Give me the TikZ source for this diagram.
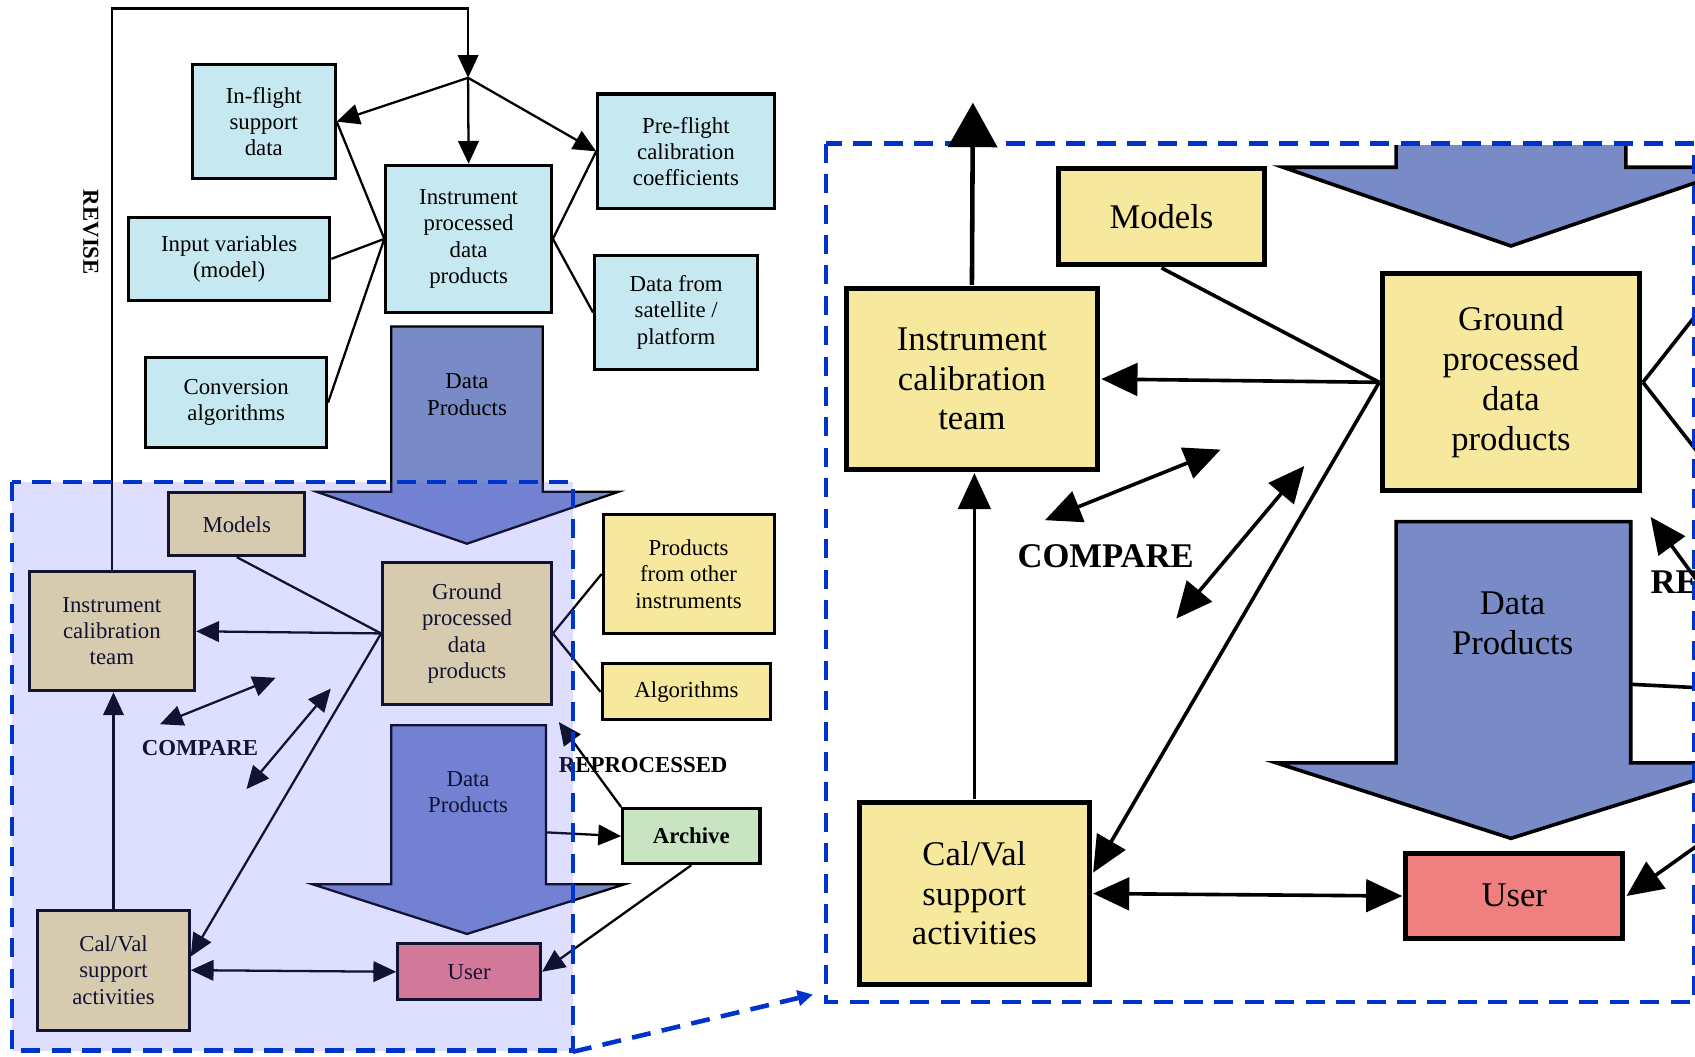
\documentclass[tikz,border=0pt]{standalone}
\usepackage{fontspec}
\setmainfont{Liberation Serif}
\usetikzlibrary{arrows.meta}

\definecolor{skyfill}{HTML}{C6E8F0}
\definecolor{sandfill}{HTML}{F6E89C}
\definecolor{rosefill}{HTML}{F08080}
\definecolor{mintfill}{HTML}{C8E4C0}
\definecolor{dpfill}{HTML}{788BC6}
\definecolor{zoomblue}{HTML}{0033CC}
\definecolor{tintblue}{HTML}{5A5AFF}

\newlength\boxlw
\newlength\connlw

\tikzset{
  box/.style={draw, line width=\boxlw, align=center, inner sep=1pt,
    font=\fontsize{6}{6.9}\selectfont},
  boxsize/.style 2 args={minimum width=#1cm, minimum height=#2cm},
  bluebox/.style={box, fill=skyfill},
  yelbox/.style={box, fill=sandfill},
  conn/.style={line width=\connlw},
  dparrow/.style={draw, fill=dpfill, line width=\connlw},
  dptext/.style={align=center, font=\fontsize{6}{6.9}\selectfont},
  tag/.style={font=\bfseries\fontsize{6}{6.9}\selectfont},
  tint/.style={fill=tintblue, fill opacity=0.2},
  zoomline/.style={draw=zoomblue, line width=1.2pt, dash pattern=on 5pt off 3pt},
}

% the cal/val part, drawn once as it is and once magnified
\newcommand{\calvalpart}[1]{%
  \draw[dparrow] (362,302) -- (502,302) -- (502,455) -- (572,455) -- (432,503)
    -- (293,455) -- (362,455) -- cycle;
  \node[dptext] (#1dpa) at (432,365) {Data\\Products};
  \draw[dparrow] (362,671) -- (505,671) -- (505,818) -- (578,818) -- (432,864)
    -- (289,818) -- (362,818) -- cycle;
  \node[dptext] (#1dpb) at (433,733) {Data\\Products};
  \node[yelbox, boxsize={1.26}{0.58}] (#1models) at (219,485) {Models};
  \node[yelbox, boxsize={1.53}{1.10}] (#1ict) at (103.5,584) {Instrument\\calibration\\team};
  \node[yelbox, boxsize={1.56}{1.32}] (#1ground) at (432,586) {Ground\\processed\\data\\products};
  \node[yelbox, boxsize={1.58}{1.10}] (#1others) at (637,531) {Products\\from other\\instruments};
  \node[yelbox, boxsize={1.56}{0.52}] (#1algo) at (635,640) {Algorithms};
  \node[box, fill=mintfill, boxsize={1.27}{0.51}, font=\bfseries\fontsize{6}{6.9}\selectfont]
    (#1archive) at (639.5,773.5) {Archive};
  \node[box, fill=rosefill, boxsize={1.32}{0.52}] (#1user) at (434,899) {User};
  \node[yelbox, boxsize={1.40}{1.11}] (#1calval) at (105,897.5) {Cal/Val\\support\\activities};
  \node[tag] (#1compare) at (185,692) {COMPARE};
  \node[tag] (#1reproc) at (595,708) {REPROCESSED};
  \coordinate (#1cmpa) at (148,670);
  \coordinate (#1cmpb) at (255,627);
  \coordinate (#1cmpc) at (228,730);
  \coordinate (#1cmpd) at (306,637);
  \coordinate (#1reptip) at (517,668);
  \coordinate (#1dpout) at (505,770);
  \draw[conn] (#1models.south) -- (#1ground.west);
  \draw[conn,->] (#1ground.west) -- (#1ict.east);
  \draw[conn,->] (#1ground.west) -- (#1calval.10);
  \draw[conn] (#1ground.east) -- (#1others.west);
  \draw[conn] (#1ground.east) -- (#1algo.west);
  \draw[conn,->] (#1calval.north) -- (#1calval.north |- #1ict.south);
  \draw[conn,<->] (#1calval.east) -- (#1user.west);
  \draw[conn,<->] (#1cmpa) -- (#1cmpb);
  \draw[conn,<->] (#1cmpc) -- (#1cmpd);
  \draw[conn,->] (#1archive.north west) -- (#1reptip);
  \draw[conn,->] (#1dpout) -- (#1archive.west);
  \draw[conn,->] (#1archive.south) -- (#1user.east);
}

\begin{document}
\begin{tikzpicture}[x=0.01cm, y=-0.01cm, >={Triangle[length=0pt 10,width=0pt 9]}]
\useasboundingbox (0,0) rectangle (1568,977);
\setlength\boxlw{0.8pt}
\setlength\connlw{0.6pt}

% instrument side
\node[bluebox, boxsize={1.32}{1.05}] (inflight) at (244,112.5) {In-flight\\support\\data};
\node[bluebox, boxsize={1.63}{1.06}] (preflight) at (634.5,140) {Pre-flight\\calibration\\coefficients};
\node[bluebox, boxsize={1.53}{1.36}] (ipdp) at (433.5,221) {Instrument\\processed\\data\\products};
\node[bluebox, boxsize={1.86}{0.77}] (inputvar) at (212,239.5) {Input variables\\(model)};
\node[bluebox, boxsize={1.51}{1.06}] (satellite) at (625.5,289) {Data from\\satellite /\\platform};
\node[bluebox, boxsize={1.67}{0.83}] (conversion) at (218.5,372.5) {Conversion\\algorithms};
\node[tag, rotate=-90] (revise) at (84,215) {REVISE};
\coordinate (split) at (433,72);
\coordinate (loopcorner) at (433,8);
\draw[conn,->] (split) -- (inflight.east);
\draw[conn,->] (split) -- (ipdp.north);
\draw[conn,->] (split) -- (preflight.west);
\draw[conn] (inflight.east) -- (ipdp.west);
\draw[conn] (inputvar.east) -- (ipdp.west);
\draw[conn] (conversion.east) -- (ipdp.west);
\draw[conn] (preflight.west) -- (ipdp.east);
\draw[conn] (satellite.west) -- (ipdp.east);

% ground side
\calvalpart{l}
\draw[conn,->] (lict.north) |- (loopcorner) -- (split);
\fill[tint] (11,446) rectangle (530,972);
\draw[zoomline] (11,446) rectangle (530,972);
\coordinate (zoomfrom) at (530,973);
\coordinate (zoomto) at (752,920);
\draw[zoomline, -{Triangle[length=4pt,width=4pt]}] (zoomfrom) -- (zoomto);

% magnified view
\setlength\boxlw{1.3pt}
\setlength\connlw{0.95pt}
\begin{scope}
  \clip (764,135) rectangle (1568,927);
  \begin{scope}[shift={(742,-536)}, scale=1.518, transform shape]
    \calvalpart{r}
  \end{scope}
\end{scope}
\draw[zoomline] (764,133) rectangle (1567,927);
\coordinate (revtip) at (900,95);
\draw[line width=1.2pt, -{Triangle[length=11.7pt,width=12.8pt]}] (rict.north) -- (revtip);
\end{tikzpicture}
\end{document}
